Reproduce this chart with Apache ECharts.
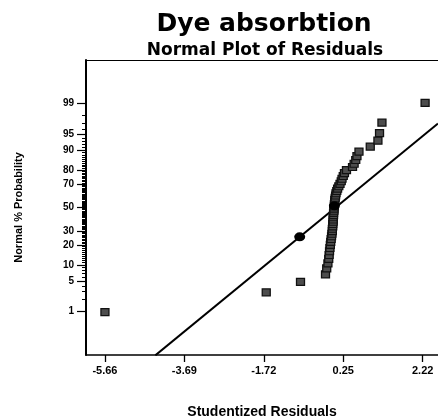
<!DOCTYPE html>
<html>
<head>
<meta charset="utf-8">
<script src="https://cdn.jsdelivr.net/npm/echarts@6/dist/echarts.min.js"></script>
<style>html,body{margin:0;padding:0;background:#fff}#c{width:438px;height:418px}</style>
</head>
<body>
<div id="c"></div>
<script>
// ---- data ----
const residuals = [-5.66, -1.66, -0.81, -0.19, -0.16, -0.13, -0.11, -0.10, -0.09, -0.08,
  -0.07, -0.06, -0.05, -0.04, -0.03, -0.02, -0.02, -0.01, -0.01, 0.00,
  0.00, 0.00, 0.01, 0.01, 0.02, 0.02, 0.03, 0.03, 0.04, 0.04,
  0.05, 0.06, 0.07, 0.09, 0.11, 0.14, 0.17, 0.20, 0.22, 0.25,
  0.28, 0.33, 0.48, 0.52, 0.56, 0.59, 0.64, 0.92, 1.11, 1.15,
  1.21, 2.28];
const probabilities = [0.96, 2.88, 4.81, 6.73, 8.65, 10.58, 12.50, 14.42, 16.35, 18.27,
  20.19, 22.12, 24.04, 25.96, 27.88, 29.81, 31.73, 33.65, 35.58, 37.50,
  39.42, 41.35, 43.27, 45.19, 47.12, 49.04, 50.96, 52.88, 54.81, 56.73,
  58.65, 60.58, 62.50, 64.42, 66.35, 68.27, 70.19, 72.12, 74.04, 75.96,
  77.88, 79.81, 81.73, 83.65, 85.58, 87.50, 89.42, 91.35, 93.27, 95.19,
  97.12, 99.04];
const lineX = [-4.41, 2.60];
const lineP = [0.047, 97.0];
const circleX = [-0.83, 0.03];
const circleP = [25.6, 51.5];
const xTicks = [-5.66, -3.69, -1.72, 0.25, 2.22];
const yTickLabels = [1, 5, 10, 20, 30, 50, 70, 80, 90, 95, 99];
const yMinorTicks = [];
for (let k = 1; k <= 99; k++) yMinorTicks.push(k);

// ---- normal probability scale (inverse normal CDF) ----
function probit(p){
  const a=[-3.969683028665376e+01,2.209460984245205e+02,-2.759285104469687e+02,1.383577518672690e+02,-3.066479806614716e+01,2.506628277459239e+00];
  const b=[-5.447609879822406e+01,1.615858368580409e+02,-1.556989798598866e+02,6.680131188771972e+01,-1.328068155288572e+01];
  const c=[-7.784894002430293e-03,-3.223964580411365e-01,-2.400758277161838e+00,-2.549732539343734e+00,4.374664141464968e+00,2.938163982698783e+00];
  const d=[7.784695709041462e-03,3.224671290700398e-01,2.445134137142996e+00,3.754408661907416e+00];
  const pl=0.02425, ph=1-pl; let q,r;
  if(p<pl){q=Math.sqrt(-2*Math.log(p));return (((((c[0]*q+c[1])*q+c[2])*q+c[3])*q+c[4])*q+c[5])/((((d[0]*q+d[1])*q+d[2])*q+d[3])*q+1);}
  if(p<=ph){q=p-0.5;r=q*q;return (((((a[0]*r+a[1])*r+a[2])*r+a[3])*r+a[4])*r+a[5])*q/(((((b[0]*r+b[1])*r+b[2])*r+b[3])*r+b[4])*r+1);}
  q=Math.sqrt(-2*Math.log(1-p));return -(((((c[0]*q+c[1])*q+c[2])*q+c[3])*q+c[4])*q+c[5])/((((d[0]*q+d[1])*q+d[2])*q+d[3])*q+1);
}
const pz = pct => probit(pct/100);

const YMIN = -3.3, YMAX = 3.3, XMIN = -6.13, XMAX = 2.6;
const labelZ = yTickLabels.map(pz);
const minorZ = yMinorTicks.map(pz);

const chart = echarts.init(document.getElementById('c'), null, {renderer:'canvas'});
const fontB = 'Liberation Sans, Arial, sans-serif';
chart.setOption({
  animation:false,
  backgroundColor:'#fff',
  title:[
    {text:'Dye absorbtion', left:264, top:12, textAlign:'center', padding:0,
     textStyle:{fontFamily:'DejaVu Sans', fontSize:25, fontWeight:'bold', color:'#000'}},
    {text:'Normal Plot of Residuals', left:265, top:42, textAlign:'center', padding:0,
     textStyle:{fontFamily:'DejaVu Sans', fontSize:17, fontWeight:'bold', color:'#000'}}
  ],
  grid:{left:86, right:0, top:60, bottom:63, containLabel:false, outerBoundsMode:'none'},
  xAxis:[
    {type:'value', position:'bottom', min:XMIN, max:XMAX,
     name:'Studentized Residuals', nameLocation:'middle', nameGap:50,
     nameTextStyle:{fontFamily:fontB, fontSize:14, fontWeight:'bold', color:'#000'},
     axisLine:{show:true, onZero:false, lineStyle:{color:'#000', width:1.5}},
     axisTick:{show:true, inside:false, length:7, customValues:xTicks, lineStyle:{color:'#000', width:1.3}},
     axisLabel:{show:true, customValues:xTicks, margin:10, formatter:v=>v.toFixed(2),
       fontFamily:fontB, fontSize:11, fontWeight:'bold', color:'#000'},
     splitLine:{show:false}},
    {type:'value', position:'top', min:XMIN, max:XMAX,
     axisLine:{show:true, onZero:false, lineStyle:{color:'#000', width:1}},
     axisTick:{show:false}, axisLabel:{show:false}, splitLine:{show:false}}
  ],
  yAxis:[
    {type:'value', position:'left', min:YMIN, max:YMAX,
     name:'Normal % Probability', nameLocation:'middle', nameGap:62, nameRotate:90,
     nameTextStyle:{fontFamily:fontB, fontSize:11, fontWeight:'bold', color:'#000'},
     axisLine:{show:true, onZero:false, lineStyle:{color:'#000', width:2}},
     axisTick:{show:true, inside:false, length:9, customValues:labelZ, lineStyle:{color:'#000', width:1.2}},
     axisLabel:{show:true, customValues:labelZ, margin:12,
       formatter:function(v){let best=0,bd=1e9;for(let k=0;k<labelZ.length;k++){const dd=Math.abs(labelZ[k]-v);if(dd<bd){bd=dd;best=k;}}return String(yTickLabels[best]);},
       fontFamily:fontB, fontSize:10, fontWeight:'bold', color:'#000'},
     splitLine:{show:false}},
    {type:'value', position:'left', offset:0, min:YMIN, max:YMAX,
     axisLine:{show:false, onZero:false},
     axisTick:{show:true, inside:false, length:4, customValues:minorZ, lineStyle:{color:'#000', width:1}},
     axisLabel:{show:false}, splitLine:{show:false}}
  ],
  series:[
    {type:'line', xAxisIndex:0, yAxisIndex:0, symbol:'none', clip:true,
     data: lineX.map((x,i)=>[x, pz(lineP[i])]),
     lineStyle:{color:'#000', width:2}, z:2},
    {type:'scatter', xAxisIndex:0, yAxisIndex:0, symbol:'rect', symbolSize:[8,7],
     data: residuals.map((r,i)=>[r, pz(probabilities[i])]),
     itemStyle:{color:'#4d4d4d', borderColor:'#111', borderWidth:1.2, opacity:1}, z:3},
    {type:'scatter', xAxisIndex:0, yAxisIndex:0, symbol:'circle', symbolSize:[11,9],
     data: circleX.map((x,i)=>[x, pz(circleP[i])]),
     itemStyle:{color:'#000', opacity:1}, z:4}
  ]
});
</script>
</body>
</html>
